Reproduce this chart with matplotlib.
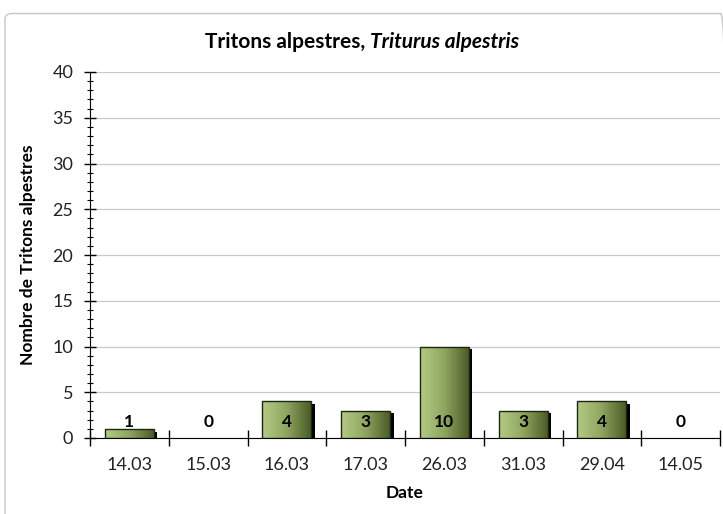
import numpy as np
import matplotlib.pyplot as plt
import matplotlib.patheffects as pe
from matplotlib.colors import LinearSegmentedColormap
from matplotlib.patches import FancyBboxPatch
from matplotlib.ticker import MultipleLocator, FixedLocator

dates = ["14.03", "15.03", "16.03", "17.03", "26.03", "31.03", "29.04", "14.05"]
counts = [1, 0, 4, 3, 10, 3, 4, 0]

plt.rcParams['font.family'] = ['Lato', 'DejaVu Sans']

fig = plt.figure(figsize=(7.23, 5.14), dpi=100)
ax = fig.add_axes([90 / 723, 76 / 514, 630 / 723, 366 / 514])

# outer chart frame
frame = FancyBboxPatch((5 / 723, -0.02), 1.0, 0.997 - 12 / 514 + 0.02,
                       boxstyle="round,pad=0,rounding_size=0.01",
                       transform=fig.transFigure, facecolor="none",
                       edgecolor="#c8c8c8", linewidth=1.0, zorder=-1)
fig.patches.append(frame)

cmap = LinearSegmentedColormap.from_list("olive", ["#b4cb87", "#8fa65f", "#4a5c28"])
grad = np.linspace(0, 1, 256).reshape(1, -1)

x = np.arange(len(dates))
width = 0.62
bars = ax.bar(x, counts, width=width, color="none", edgecolor="none", zorder=2,
              path_effects=[pe.SimplePatchShadow(offset=(2.5, -2.0), shadow_rgbFace="black", alpha=1.0)])
for b, v in zip(bars, counts):
    if v == 0:
        continue
    bx, by = b.get_x(), b.get_y()
    im = ax.imshow(grad, cmap=cmap, aspect="auto", zorder=3,
                   extent=(bx, bx + b.get_width(), by, by + b.get_height()))
    im.set_clip_path(b)
    ax.bar(b.get_x() + width / 2, v, width=width, color="none", edgecolor="#1e2810",
           linewidth=1.0, zorder=4)

for xi, v in zip(x, counts):
    ax.text(xi, 1.8, str(v), ha="center", va="center", fontsize=12.5, fontweight="bold",
            color="black", zorder=5)

ax.set_xlim(-0.5, len(dates) - 0.5)
ax.set_ylim(0, 40)
ax.yaxis.set_major_locator(MultipleLocator(5))
ax.yaxis.set_minor_locator(MultipleLocator(1))
ax.grid(axis="y", which="major", color="#c8c8c8", linewidth=0.9, zorder=0)
ax.set_axisbelow(True)

ax.set_xticks(x)
ax.set_xticklabels(dates)
ax.xaxis.set_minor_locator(FixedLocator(np.arange(len(dates) + 1) - 0.5))
ax.tick_params(axis="x", which="major", length=0, pad=14, labelsize=13, labelcolor="#222222")
ax.tick_params(axis="x", which="minor", direction="inout", length=11, width=1.0)
ax.tick_params(axis="y", which="major", direction="inout", length=8, width=1.0, labelsize=13,
               pad=8, labelcolor="#222222")
ax.tick_params(axis="y", which="minor", direction="inout", length=5, width=0.8)

for s in ["top", "right"]:
    ax.spines[s].set_visible(False)
ax.spines["left"].set_color("black")
ax.spines["bottom"].set_color("black")

ax.set_xlabel("Date", fontsize=12.5, fontweight="bold", labelpad=8)
ax.set_ylabel("Nombre de Tritons alpestres", fontsize=12.5, fontweight="bold", labelpad=12)

# title: regular bold part + italic bold species name
fig.canvas.draw()
r = fig.canvas.get_renderer()
t1 = fig.text(0, 0, "Tritons alpestres, ", fontsize=15, fontweight="bold")
t2 = fig.text(0, 0, "Triturus alpestris", fontsize=15, fontweight="bold", style="italic")
w1 = t1.get_window_extent(r).width
w2 = t2.get_window_extent(r).width
x0 = (362 - (w1 + w2) / 2) / 723
ty = 1 - 48 / 514
t1.set_position((x0, ty))
t2.set_position((x0 + w1 / 723, ty))

fig.savefig("out.png", dpi=100)
